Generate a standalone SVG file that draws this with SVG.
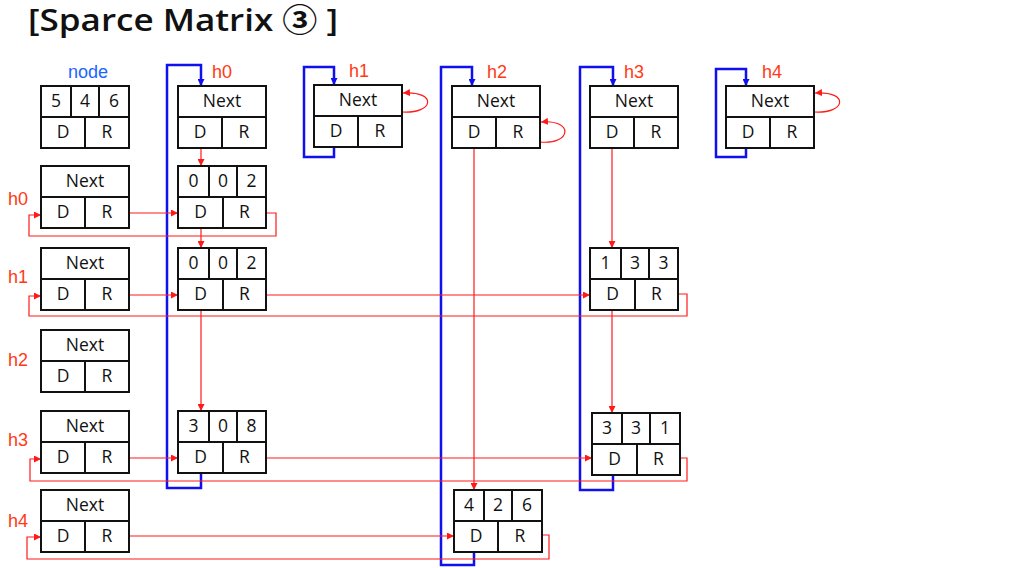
<svg xmlns="http://www.w3.org/2000/svg" width="1018" height="568" viewBox="0 0 1018 568">
<style>
.box{fill:#fff;stroke:#111;stroke-width:2}
.ln{fill:none;stroke:#111;stroke-width:2}
.t{font-family:"Open Sans","Liberation Sans",sans-serif;font-size:17.5px;fill:#111;text-anchor:middle}
.lbl{font-family:"Liberation Sans","DejaVu Sans",sans-serif;font-size:18px;fill:#ff3a14}
.red{fill:none;stroke:#ff1a1a;stroke-width:1.2}
.blue{fill:none;stroke:#1010ee;stroke-width:2.5}
</style>
<defs>
<marker id="ra" viewBox="0 0 10 10" refX="10" refY="5" markerWidth="7" markerHeight="7" markerUnits="userSpaceOnUse" orient="auto"><path d="M0,0L10,5L0,10z" fill="#ff1a1a"/></marker>
<marker id="ba" viewBox="0 0 10 10" refX="10" refY="5" markerWidth="8" markerHeight="7" markerUnits="userSpaceOnUse" orient="auto"><path d="M0,0L10,5L0,10z" fill="#1010ee"/></marker>
</defs>
<rect width="1018" height="568" fill="#fff"/>
<text x="28" y="31" textLength="310" lengthAdjust="spacingAndGlyphs" style="font-family:'Open Sans','Noto Sans','Noto Sans CJK KR',sans-serif;font-size:31px;font-weight:600;fill:#111">[Sparce Matrix ③ ]</text>

<text x="88" y="78" text-anchor="middle" style="font-family:'Liberation Sans',sans-serif;font-size:18px;fill:#1a66ff">node</text>
<text class="lbl" x="212" y="78">h0</text>
<text class="lbl" x="349" y="77">h1</text>
<text class="lbl" x="487" y="78">h2</text>
<text class="lbl" x="624" y="78">h3</text>
<text class="lbl" x="762" y="78">h4</text>
<text class="lbl" x="8" y="205">h0</text>
<text class="lbl" x="8" y="283">h1</text>
<text class="lbl" x="8" y="366">h2</text>
<text class="lbl" x="8" y="446">h3</text>
<text class="lbl" x="8" y="527">h4</text>

<g id="connectors">
<path class="blue" d="M201,468V488H167V65H201V86" marker-end="url(#ba)"/>
<path class="blue" d="M334,141V157H304V67H334V85" marker-end="url(#ba)"/>
<path class="blue" d="M474,543V565H441V67H472V86" marker-end="url(#ba)"/>
<path class="blue" d="M613,468V490H580V67H613V86" marker-end="url(#ba)"/>
<path class="blue" d="M746,141V157H716V69H746V86" marker-end="url(#ba)"/>

<path class="red" d="M201,143V166" marker-end="url(#ra)"/>
<path class="red" d="M201,224V248" marker-end="url(#ra)"/>
<path class="red" d="M201,304V411" marker-end="url(#ra)"/>
<path class="red" d="M474,142V490" marker-end="url(#ra)"/>
<path class="red" d="M612,142V248" marker-end="url(#ra)"/>
<path class="red" d="M612,304V413" marker-end="url(#ra)"/>

<path class="red" d="M122,213H178" marker-end="url(#ra)"/>
<path class="red" d="M262,213H276V236H29V215H41" marker-end="url(#ra)"/>
<path class="red" d="M122,295H178" marker-end="url(#ra)"/>
<path class="red" d="M262,295H590" marker-end="url(#ra)"/>
<path class="red" d="M675,294H687V316H29V296H41" marker-end="url(#ra)"/>
<path class="red" d="M122,458H178" marker-end="url(#ra)"/>
<path class="red" d="M262,458H592" marker-end="url(#ra)"/>
<path class="red" d="M675,458H687V481H30V459H41" marker-end="url(#ra)"/>
<path class="red" d="M122,536H454" marker-end="url(#ra)"/>
<path class="red" d="M538,535H549V559H27V537H41" marker-end="url(#ra)"/>

<path class="red" d="M402,112C434,114 438,91 403,93" marker-end="url(#ra)"/>
<path class="red" d="M540,142C572,145 574,119 541,122" marker-end="url(#ra)"/>
<path class="red" d="M814,112C846,114 850,91 815,93" marker-end="url(#ra)"/>
</g>

<g id="node-legend" transform="translate(41,86)">
<rect class="box" width="88" height="62"/><path class="ln" d="M0,31H88M30,0V31M58,0V31M44,31V62"/>
<text class="t" x="15" y="21">5</text><text class="t" x="44" y="21">4</text><text class="t" x="73" y="21">6</text>
<text class="t" x="22" y="52">D</text><text class="t" x="66" y="52">R</text>
</g>

<g id="h0-col" transform="translate(178,86)">
<rect class="box" width="88" height="62"/><path class="ln" d="M0,31H88M44,31V62"/>
<text class="t" x="44" y="21">Next</text><text class="t" x="22" y="52">D</text><text class="t" x="66" y="52">R</text>
</g>
<g id="h1-col" transform="translate(314,85)">
<rect class="box" width="88" height="62"/><path class="ln" d="M0,31H88M44,31V62"/>
<text class="t" x="44" y="21">Next</text><text class="t" x="22" y="52">D</text><text class="t" x="66" y="52">R</text>
</g>
<g id="h2-col" transform="translate(452,86)">
<rect class="box" width="88" height="62"/><path class="ln" d="M0,31H88M44,31V62"/>
<text class="t" x="44" y="21">Next</text><text class="t" x="22" y="52">D</text><text class="t" x="66" y="52">R</text>
</g>
<g id="h3-col" transform="translate(590,86)">
<rect class="box" width="88" height="62"/><path class="ln" d="M0,31H88M44,31V62"/>
<text class="t" x="44" y="21">Next</text><text class="t" x="22" y="52">D</text><text class="t" x="66" y="52">R</text>
</g>
<g id="h4-col" transform="translate(726,86)">
<rect class="box" width="88" height="62"/><path class="ln" d="M0,31H88M44,31V62"/>
<text class="t" x="44" y="21">Next</text><text class="t" x="22" y="52">D</text><text class="t" x="66" y="52">R</text>
</g>

<g id="h0-row" transform="translate(41,166)">
<rect class="box" width="88" height="62"/><path class="ln" d="M0,31H88M44,31V62"/>
<text class="t" x="44" y="21">Next</text><text class="t" x="22" y="52">D</text><text class="t" x="66" y="52">R</text>
</g>
<g id="h1-row" transform="translate(41,248)">
<rect class="box" width="88" height="62"/><path class="ln" d="M0,31H88M44,31V62"/>
<text class="t" x="44" y="21">Next</text><text class="t" x="22" y="52">D</text><text class="t" x="66" y="52">R</text>
</g>
<g id="h2-row" transform="translate(41,330)">
<rect class="box" width="88" height="62"/><path class="ln" d="M0,31H88M44,31V62"/>
<text class="t" x="44" y="21">Next</text><text class="t" x="22" y="52">D</text><text class="t" x="66" y="52">R</text>
</g>
<g id="h3-row" transform="translate(41,411)">
<rect class="box" width="88" height="62"/><path class="ln" d="M0,31H88M44,31V62"/>
<text class="t" x="44" y="21">Next</text><text class="t" x="22" y="52">D</text><text class="t" x="66" y="52">R</text>
</g>
<g id="h4-row" transform="translate(41,490)">
<rect class="box" width="88" height="62"/><path class="ln" d="M0,31H88M44,31V62"/>
<text class="t" x="44" y="21">Next</text><text class="t" x="22" y="52">D</text><text class="t" x="66" y="52">R</text>
</g>

<g id="e002a" transform="translate(178,166)">
<rect class="box" width="88" height="62"/><path class="ln" d="M0,31H88M31,0V31M59,0V31M45,31V62"/>
<text class="t" x="15.5" y="21">0</text><text class="t" x="45" y="21">0</text><text class="t" x="73.5" y="21">2</text>
<text class="t" x="22.5" y="52">D</text><text class="t" x="66.5" y="52">R</text>
</g>
<g id="e002b" transform="translate(178,248)">
<rect class="box" width="88" height="62"/><path class="ln" d="M0,31H88M31,0V31M59,0V31M45,31V62"/>
<text class="t" x="15.5" y="21">0</text><text class="t" x="45" y="21">0</text><text class="t" x="73.5" y="21">2</text>
<text class="t" x="22.5" y="52">D</text><text class="t" x="66.5" y="52">R</text>
</g>
<g id="e308" transform="translate(178,411)">
<rect class="box" width="88" height="62"/><path class="ln" d="M0,31H88M31,0V31M59,0V31M45,31V62"/>
<text class="t" x="15.5" y="21">3</text><text class="t" x="45" y="21">0</text><text class="t" x="73.5" y="21">8</text>
<text class="t" x="22.5" y="52">D</text><text class="t" x="66.5" y="52">R</text>
</g>
<g id="e133" transform="translate(590,248)">
<rect class="box" width="88" height="62"/><path class="ln" d="M0,31H88M31,0V31M59,0V31M45,31V62"/>
<text class="t" x="15.5" y="21">1</text><text class="t" x="45" y="21">3</text><text class="t" x="73.5" y="21">3</text>
<text class="t" x="22.5" y="52">D</text><text class="t" x="66.5" y="52">R</text>
</g>
<g id="e331" transform="translate(592,413)">
<rect class="box" width="88" height="62"/><path class="ln" d="M0,31H88M30,0V31M58,0V31M45,31V62"/>
<text class="t" x="15" y="21">3</text><text class="t" x="44" y="21">3</text><text class="t" x="73" y="21">1</text>
<text class="t" x="22.5" y="52">D</text><text class="t" x="66.5" y="52">R</text>
</g>
<g id="e426" transform="translate(454,490)">
<rect class="box" width="88" height="62"/><path class="ln" d="M0,31H88M30,0V31M58,0V31M44,31V62"/>
<text class="t" x="15" y="21">4</text><text class="t" x="44" y="21">2</text><text class="t" x="73" y="21">6</text>
<text class="t" x="22" y="52">D</text><text class="t" x="66" y="52">R</text>
</g>
</svg>
